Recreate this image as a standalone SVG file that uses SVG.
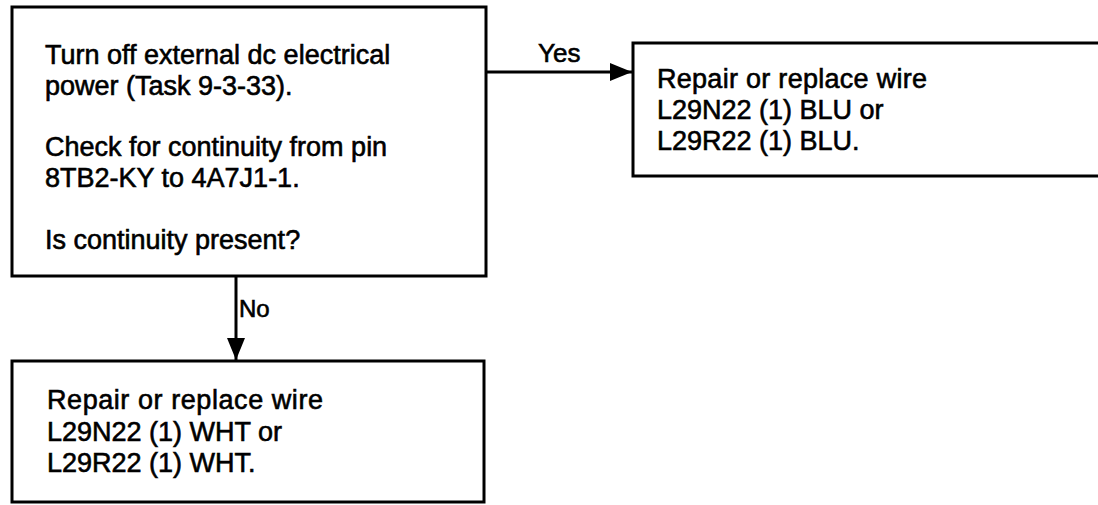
<svg xmlns="http://www.w3.org/2000/svg" width="1098" height="505" viewBox="0 0 1098 505">
<style>
.box{fill:#fff;stroke:#000;stroke-width:3}
.t{font-family:"Liberation Sans",Arial,sans-serif;font-size:27px;fill:#000;stroke:#000;stroke-width:0.6}
.lbl{font-family:"Liberation Sans",Arial,sans-serif;fill:#000;stroke:#000;stroke-width:0.6}
.con{stroke:#000;stroke-width:3;fill:none}
</style>
<defs>
<marker id="ah" viewBox="0 0 22 18" refX="22" refY="9" markerWidth="22" markerHeight="18" markerUnits="userSpaceOnUse" orient="auto">
<path d="M0,0 L22,9 L0,18 Z" fill="#000"/>
</marker>
</defs>
<g id="connectors">
<line class="con" x1="486" y1="72" x2="632" y2="72" marker-end="url(#ah)"/>
<text class="lbl" x="538" y="62" font-size="26">Yes</text>
<line class="con" x1="236" y1="276" x2="236" y2="360" marker-end="url(#ah)"/>
<text class="lbl" x="239" y="317" font-size="24">No</text>
</g>
<g id="node-check">
<rect class="box" x="12" y="7" width="474" height="269"/>
<text class="t" x="45" y="64">Turn off external dc electrical</text>
<text class="t" x="45" y="95">power (Task 9-3-33).</text>
<text class="t" x="45" y="156">Check for continuity from pin</text>
<text class="t" x="45" y="187">8TB2-KY to 4A7J1-1.</text>
<text class="t" x="45" y="249">Is continuity present?</text>
</g>
<g id="node-blu">
<rect class="box" x="633" y="43" width="480" height="133"/>
<text class="t" x="657" y="88" textLength="270" lengthAdjust="spacing">Repair or replace wire</text>
<text class="t" x="657" y="119">L29N22 (1) BLU or</text>
<text class="t" x="657" y="150">L29R22 (1) BLU.</text>
</g>
<g id="node-wht">
<rect class="box" x="12" y="361" width="472" height="141"/>
<text class="t" x="47" y="409" font-size="28" textLength="276" lengthAdjust="spacing">Repair or replace wire</text>
<text class="t" x="47" y="441" font-size="28">L29N22 (1) WHT or</text>
<text class="t" x="47" y="472" font-size="28">L29R22 (1) WHT.</text>
</g>
</svg>
